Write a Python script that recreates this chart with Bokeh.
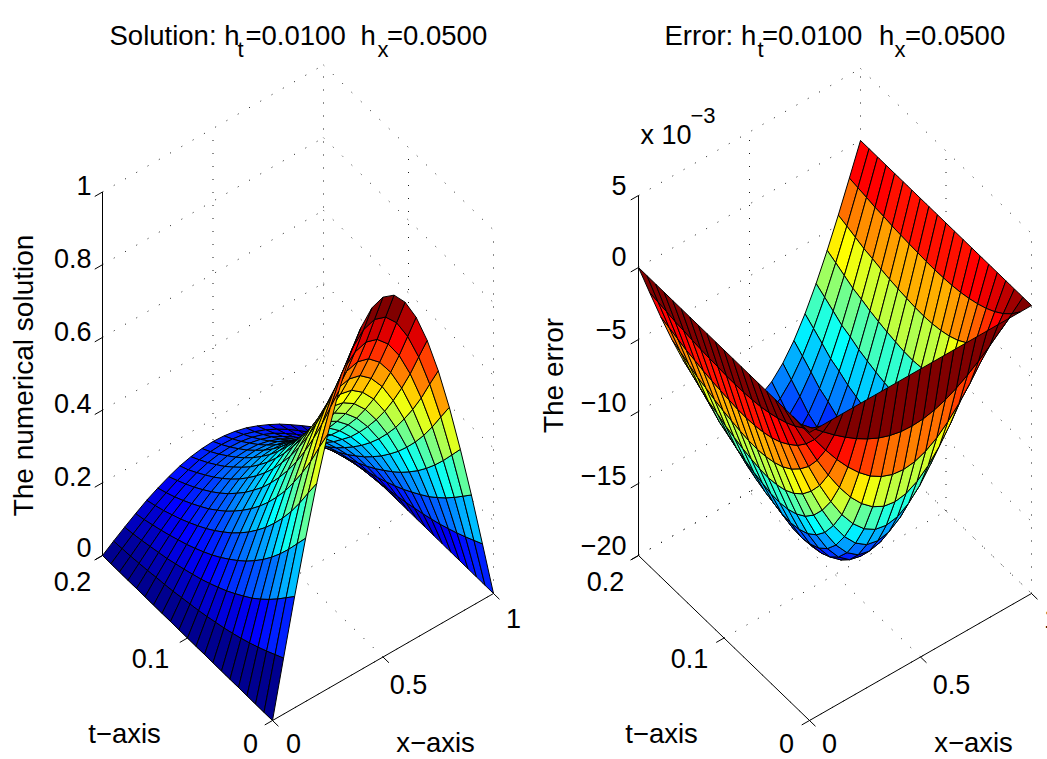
from bokeh.plotting import figure
from bokeh.layouts import row
from bokeh.models import Range1d
from bokeh.core.properties import value
from bokeh.embed import file_html
from bokeh.resources import INLINE
import math

# Surface values; columns x = 0 .. 0.5 (the other half mirrors them), rows t = 0 .. 0.2
solution_half = [
 [0, .154, .306, .449, .582, .700, .801, .882, .941, .978, .99],
 [0, .141, .280, .411, .533, .641, .733, .807, .862, .895, .906],
 [0, .128, .254, .373, .483, .580, .664, .732, .781, .811, .821],
 [0, .116, .230, .338, .437, .526, .602, .663, .708, .735, .744],
 [0, .105, .208, .306, .396, .477, .545, .601, .641, .666, .674],
 [0, .095, .188, .277, .359, .431, .493, .544, .580, .603, .610],
 [0, .086, .171, .251, .325, .391, .447, .493, .526, .546, .553],
 [0, .078, .155, .227, .295, .354, .405, .446, .476, .495, .501],
 [0, .071, .140, .206, .267, .321, .367, .405, .432, .449, .454],
 [0, .064, .127, .187, .242, .291, .332, .366, .391, .406, .411],
 [0, .058, .115, .169, .219, .264, .302, .332, .355, .369, .373],
 [0, .053, .104, .153, .199, .239, .273, .301, .321, .334, .338],
 [0, .048, .095, .139, .180, .216, .248, .273, .291, .302, .306],
 [0, .043, .086, .126, .163, .196, .224, .247, .263, .274, .277],
 [0, .039, .078, .114, .148, .177, .203, .224, .239, .248, .251],
 [0, .036, .070, .104, .134, .161, .184, .203, .217, .225, .228],
 [0, .032, .064, .094, .121, .146, .167, .184, .196, .204, .206],
 [0, .029, .058, .085, .110, .132, .151, .167, .178, .185, .187],
 [0, .026, .052, .077, .099, .119, .137, .151, .161, .167, .169],
 [0, .024, .047, .069, .090, .108, .124, .136, .146, .151, .153],
 [0, .022, .043, .063, .082, .098, .112, .124, .132, .137, .139],
]
# Magnitude of the (negative) error, in units of 10^-3
error_half = [
 [0, 0, 0, 0, 0, 0, 0, 0, 0, 0, 0],
 [0, .71, 1.40, 2.06, 2.66, 3.20, 3.66, 4.04, 4.31, 4.48, 4.53],
 [0, 1.27, 2.51, 3.69, 4.78, 5.74, 6.57, 7.25, 7.73, 8.03, 8.13],
 [0, 1.71, 3.38, 4.97, 6.43, 7.73, 8.85, 9.74, 10.40, 10.81, 10.94],
 [0, 2.05, 4.07, 5.97, 7.73, 9.29, 10.64, 11.71, 12.50, 12.99, 13.14],
 [0, 2.31, 4.57, 6.71, 8.70, 10.46, 11.97, 13.18, 14.07, 14.62, 14.79],
 [0, 2.51, 4.98, 7.30, 9.46, 11.38, 13.02, 14.34, 15.31, 15.90, 16.09],
 [0, 2.66, 5.26, 7.72, 10.00, 12.03, 13.76, 15.16, 16.18, 16.81, 17.01],
 [0, 2.75, 5.44, 7.99, 10.36, 12.45, 14.25, 15.69, 16.75, 17.40, 17.62],
 [0, 2.80, 5.55, 8.15, 10.55, 12.69, 14.52, 15.99, 17.06, 17.73, 17.95],
 [0, 2.82, 5.59, 8.22, 10.64, 12.79, 14.64, 16.12, 17.21, 17.88, 18.09],
 [0, 2.81, 5.57, 8.19, 10.60, 12.75, 14.59, 16.06, 17.15, 17.82, 18.03],
 [0, 2.77, 5.50, 8.09, 10.48, 12.59, 14.40, 15.87, 16.94, 17.60, 17.81],
 [0, 2.74, 5.42, 7.97, 10.32, 12.41, 14.20, 15.64, 16.69, 17.34, 17.55],
 [0, 2.69, 5.32, 7.82, 10.12, 12.17, 13.93, 15.34, 16.38, 17.01, 17.22],
 [0, 2.63, 5.20, 7.64, 9.90, 11.91, 13.62, 15.01, 16.02, 16.64, 16.84],
 [0, 2.54, 5.04, 7.41, 9.59, 11.53, 13.20, 14.53, 15.51, 16.12, 16.32],
 [0, 2.48, 4.91, 7.22, 9.35, 11.24, 12.86, 14.17, 15.12, 15.71, 15.90],
 [0, 2.37, 4.70, 6.91, 8.94, 10.75, 12.30, 13.55, 14.46, 15.03, 15.21],
 [0, 2.27, 4.49, 6.60, 8.55, 10.28, 11.76, 12.96, 13.83, 14.37, 14.54],
 [0, 2.17, 4.30, 6.31, 8.17, 9.83, 11.25, 12.38, 13.22, 13.73, 13.90],
]
x_ticks = [0, 0.5, 1]
t_ticks = [0, 0.1, 0.2]
z_ticks_solution = [0, 0.2, 0.4, 0.6, 0.8, 1]
z_ticks_error = [-20, -15, -10, -5, 0, 5]
x_tick_labels = ["0", "0.5", "1"]
t_tick_labels = ["0", "0.1", "0.2"]
z_labels_solution = ["0", "0.2", "0.4", "0.6", "0.8", "1"]
z_labels_error = ["\u221220", "\u221215", "\u221210", "\u22125", "0", "5"]

FONT = "Liberation Sans"
TMAX = 0.2


def mirror(half):
    return [r + r[-2::-1] for r in half]


solution = mirror(solution_half)
error = [[-v for v in r] for r in mirror(error_half)]


def jet(v):
    idx = min(63, max(0, int(math.floor(v * 64))))
    w = (idx + 1) / 64
    c = [max(0.0, min(1.0, 1.5 - abs(4 * w - k))) for k in (3, 2, 1)]
    return "#%02x%02x%02x" % tuple(int(round(a * 255)) for a in c)


def make_panel(x0, x1, front, xvec, tvec, zscale, zmin, zmax, z_ticks, Z, clim):
    p = figure(width=x1 - x0, height=759, x_range=Range1d(x0, x1), y_range=Range1d(759, 0),
               output_backend="svg", toolbar_location=None, min_border=0)
    p.axis.visible = False
    p.grid.visible = False
    p.outline_line_color = None

    def proj(x, t, z):
        f = t / TMAX
        return (front[0] + xvec[0] * x + tvec[0] * f,
                front[1] + xvec[1] * x + tvec[1] * f - zscale * (z - zmin))

    def seg(a, b):
        pa, pb = proj(*a), proj(*b)
        return [pa[0], pb[0]], [pa[1], pb[1]]

    # dotted grid: floor and the two back walls
    gx, gy = [], []
    lines = []
    for x in x_ticks:
        lines.append(((x, 0, zmin), (x, TMAX, zmin)))
        if x > 0:
            lines.append(((x, TMAX, zmin), (x, TMAX, zmax)))
    for t in t_ticks:
        lines.append(((0, t, zmin), (1, t, zmin)))
        if t < TMAX:
            lines.append(((1, t, zmin), (1, t, zmax)))
    for z in z_ticks:
        lines.append(((0, TMAX, z), (1, TMAX, z)))
        lines.append(((1, TMAX, z), (1, 0, z)))
    for a, b in lines:
        sx, sy = seg(a, b)
        gx.append(sx)
        gy.append(sy)
    p.multi_line(gx, gy, line_color="black", line_width=0.9, line_dash="1 12")

    # axis lines and ticks
    ax, ay = [], []
    for a, b in [((0, 0, zmin), (1, 0, zmin)), ((0, 0, zmin), (0, TMAX, zmin)), ((0, TMAX, zmin), (0, TMAX, zmax))]:
        sx, sy = seg(a, b)
        ax.append(sx)
        ay.append(sy)
    L = 0.035
    for x in x_ticks:
        sx, sy = seg((x, 0, zmin), (x, -L * TMAX, zmin))
        ax.append(sx)
        ay.append(sy)
    for t in t_ticks:
        sx, sy = seg((0, t, zmin), (-L, t, zmin))
        ax.append(sx)
        ay.append(sy)
    for z in z_ticks:
        sx, sy = seg((0, TMAX, z), (-L, TMAX, z))
        ax.append(sx)
        ay.append(sy)
    p.multi_line(ax, ay, line_color="black", line_width=1)

    # surface: back cells first
    n = len(Z)
    m = len(Z[0])
    xs, ys, cols = [], [], []
    for i in range(n - 2, -1, -1):
        for j in range(m - 2, -1, -1):
            corners = [(j, i), (j + 1, i), (j + 1, i + 1), (j, i + 1)]
            pts = [proj(a / (m - 1), TMAX * b / (n - 1), Z[b][a]) for a, b in corners]
            xs.append([q[0] for q in pts])
            ys.append([q[1] for q in pts])
            cols.append(jet((Z[i][j] - clim[0]) / (clim[1] - clim[0])))
    p.patches(xs, ys, fill_color=cols, line_color="black", line_width=1, line_join="round")
    return p


def txt(p, x, y, s, size=27, align="center", base="middle", angle=0.0):
    p.text([x], [y], text=[s], text_font=value(FONT), text_font_size=f"{size}px", text_color="#000000",
           text_align=align, text_baseline=base, angle=angle)


left = make_panel(0, 532, (272, 720), (221, -127), (-170, -165), 363.5, 0, 1, z_ticks_solution, solution, (0, 0.99))
right = make_panel(532, 1047, (809, 720), (222, -127), (-171, -165), 14.4, -20, 5, z_ticks_error, error, (-18.09, 0))

# left texts
for piece, px in [("Solution: h", 109), ("=0.0100", 245), ("h", 360), ("=0.0500", 386.5)]:
    txt(left, px, 35, piece, size=27.5, align="left", base="alphabetic")
for piece, px in [("t", 237), ("x", 377)]:
    txt(left, px, 49, piece, size=22, align="left", base="alphabetic")
for lab, py in zip(z_labels_solution, [547, 476, 403, 331, 258, 185]):
    txt(left, 91, py, lab, align="right")
for lab, pos in zip(t_tick_labels, [(250, 743), (150, 658), (72, 581)]):
    txt(left, pos[0], pos[1], lab)
for lab, pos in zip(x_tick_labels, [(293, 743), (408, 684), (513, 618)]):
    txt(left, pos[0], pos[1], lab)
txt(left, 124, 733, "t\u2212axis", size=27.5)
txt(left, 435, 742, "x\u2212axis", size=27.5)
txt(left, 23, 375, "The numerical solution", size=28, angle=math.pi / 2)

# right texts
for piece, px in [("Error: h", 664), ("=0.0100", 761.5), ("h", 878.5), ("=0.0500", 904.5)]:
    txt(right, px, 35, piece, size=27.5, align="left", base="alphabetic")
for piece, px in [("t", 757), ("x", 894)]:
    txt(right, px, 49, piece, size=22, align="left", base="alphabetic")
for lab, py in zip(z_labels_error, [545, 475, 402, 329, 256, 185]):
    txt(right, 626, py, lab, align="right")
for lab, pos in zip(t_tick_labels, [(786, 743), (689, 658), (605, 581)]):
    txt(right, pos[0], pos[1], lab)
for lab, pos in zip(x_tick_labels, [(829, 743), (951, 684), (1051, 618)]):
    txt(right, pos[0], pos[1], lab)
txt(right, 661, 733, "t\u2212axis", size=27.5)
txt(right, 973, 742, "x\u2212axis", size=27.5)
txt(right, 553, 375, "The error", size=28, angle=math.pi / 2)
txt(right, 640, 134, "x 10", align="left", base="alphabetic")
txt(right, 690, 115, "\u22123", size=22, align="left", base="alphabetic")

page = row(left, right, spacing=0)
open("out.html", "w").write(file_html(page, INLINE))
